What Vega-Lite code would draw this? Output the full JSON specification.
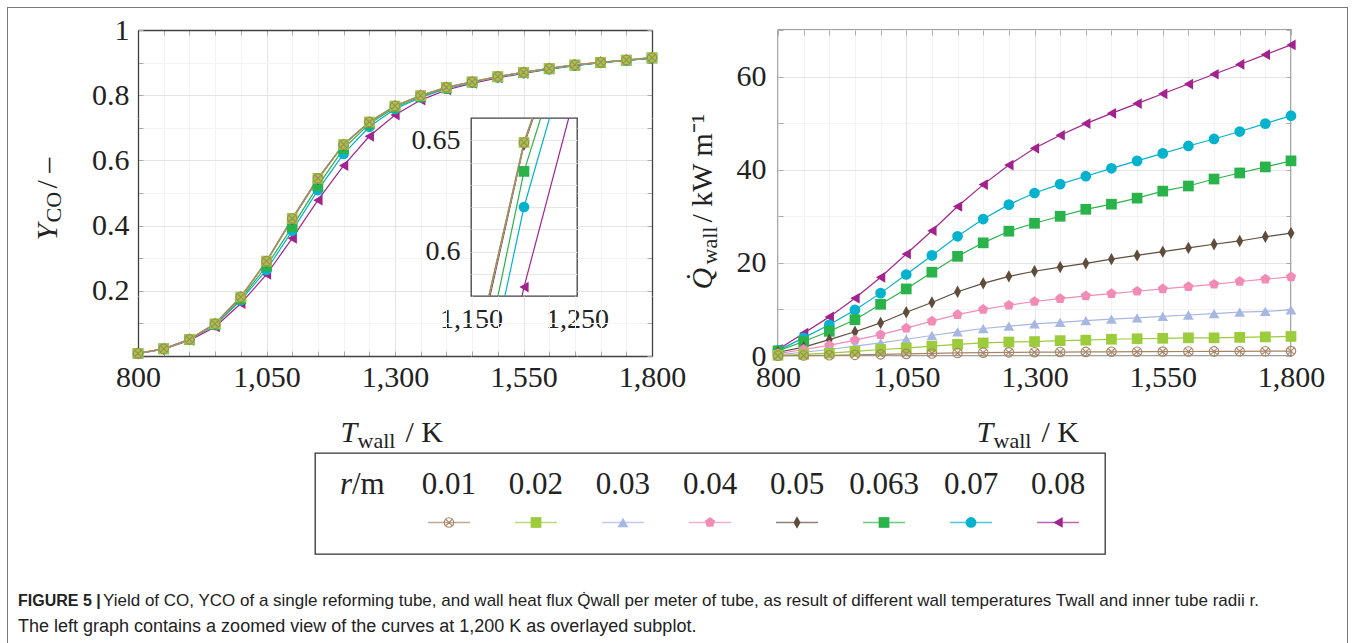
{
  "$schema": "https://vega.github.io/schema/vega-lite/v6.json",
  "background": "white",
  "autosize": {"type": "pad"},
  "padding": {"left": 7, "top": 7, "right": 0, "bottom": 0},
  "config": {
    "font": "Liberation Serif",
    "view": {"stroke": "#404040", "strokeWidth": 1.3},
    "range": {
      "category": ["#a88464","#9ccb3c","#a7b7e2","#f28cb6","#5f4c3b","#2ab34a","#03b2cd","#a3238e"],
      "symbol": ["M-1,0A1,1,0,1,0,1,0A1,1,0,1,0,-1,0ZM-0.7,-0.7L0.7,0.7M-0.7,0.7L0.7,-0.7", "square", "triangle-up", "M0,-1L0.951,-0.309L0.588,0.809L-0.588,0.809L-0.951,-0.309Z", "M0,-1.15L0.65,0L0,1.15L-0.65,0Z", "square", "circle", "triangle-left"]
    },
    "axis": {"labelFont": "Liberation Serif", "labelFontSize": 30, "labelColor": "#222", "titleFont": "Liberation Serif", "titleFontSize": 30, "titleFontWeight": "normal", "titleColor": "#222", "domain": false, "domainColor": "#404040", "domainWidth": 1.3, "tickColor": "#aaa", "tickSize": -5, "gridColor": "#f0f0f0", "labelOverlap": false, "labelFlush": false}
  },
  "datasets": {
    "main": [
      {"r":"0.08","T":800,"Y":0.007,"Q":1.4},{"r":"0.08","T":850,"Y":0.021,"Q":4.9},{"r":"0.08","T":900,"Y":0.048,"Q":8.4},{"r":"0.08","T":950,"Y":0.089,"Q":12.4},{"r":"0.08","T":1000,"Y":0.161,"Q":16.9},{"r":"0.08","T":1050,"Y":0.250,"Q":21.9},{"r":"0.08","T":1100,"Y":0.361,"Q":26.9},{"r":"0.08","T":1150,"Y":0.478,"Q":32.1},{"r":"0.08","T":1200,"Y":0.584,"Q":36.8},{"r":"0.08","T":1250,"Y":0.674,"Q":41.0},{"r":"0.08","T":1300,"Y":0.739,"Q":44.6},{"r":"0.08","T":1350,"Y":0.785,"Q":47.4},{"r":"0.08","T":1400,"Y":0.816,"Q":49.9},{"r":"0.08","T":1450,"Y":0.836,"Q":52.1},{"r":"0.08","T":1500,"Y":0.853,"Q":54.2},{"r":"0.08","T":1550,"Y":0.867,"Q":56.3},{"r":"0.08","T":1600,"Y":0.880,"Q":58.4},{"r":"0.08","T":1650,"Y":0.891,"Q":60.5},{"r":"0.08","T":1700,"Y":0.900,"Q":62.6},{"r":"0.08","T":1750,"Y":0.907,"Q":64.7},{"r":"0.08","T":1800,"Y":0.914,"Q":66.8},
      {"r":"0.07","T":800,"Y":0.008,"Q":1.2},{"r":"0.07","T":850,"Y":0.022,"Q":3.9},{"r":"0.07","T":900,"Y":0.050,"Q":6.7},{"r":"0.07","T":950,"Y":0.095,"Q":9.9},{"r":"0.07","T":1000,"Y":0.171,"Q":13.5},{"r":"0.07","T":1050,"Y":0.264,"Q":17.5},{"r":"0.07","T":1100,"Y":0.384,"Q":21.6},{"r":"0.07","T":1150,"Y":0.509,"Q":25.7},{"r":"0.07","T":1200,"Y":0.620,"Q":29.4},{"r":"0.07","T":1250,"Y":0.703,"Q":32.5},{"r":"0.07","T":1300,"Y":0.758,"Q":35.0},{"r":"0.07","T":1350,"Y":0.793,"Q":36.9},{"r":"0.07","T":1400,"Y":0.820,"Q":38.6},{"r":"0.07","T":1450,"Y":0.839,"Q":40.3},{"r":"0.07","T":1500,"Y":0.855,"Q":41.9},{"r":"0.07","T":1550,"Y":0.868,"Q":43.5},{"r":"0.07","T":1600,"Y":0.880,"Q":45.1},{"r":"0.07","T":1650,"Y":0.891,"Q":46.6},{"r":"0.07","T":1700,"Y":0.900,"Q":48.2},{"r":"0.07","T":1750,"Y":0.907,"Q":49.9},{"r":"0.07","T":1800,"Y":0.914,"Q":51.6},
      {"r":"0.063","T":800,"Y":0.008,"Q":1.1},{"r":"0.063","T":850,"Y":0.022,"Q":3.1},{"r":"0.063","T":900,"Y":0.050,"Q":5.3},{"r":"0.063","T":950,"Y":0.097,"Q":7.8},{"r":"0.063","T":1000,"Y":0.175,"Q":11.1},{"r":"0.063","T":1050,"Y":0.276,"Q":14.4},{"r":"0.063","T":1100,"Y":0.396,"Q":18.0},{"r":"0.063","T":1150,"Y":0.522,"Q":21.4},{"r":"0.063","T":1200,"Y":0.636,"Q":24.3},{"r":"0.063","T":1250,"Y":0.712,"Q":26.8},{"r":"0.063","T":1300,"Y":0.763,"Q":28.5},{"r":"0.063","T":1350,"Y":0.796,"Q":30.0},{"r":"0.063","T":1400,"Y":0.822,"Q":31.5},{"r":"0.063","T":1450,"Y":0.840,"Q":32.6},{"r":"0.063","T":1500,"Y":0.856,"Q":33.9},{"r":"0.063","T":1550,"Y":0.869,"Q":35.4},{"r":"0.063","T":1600,"Y":0.881,"Q":36.5},{"r":"0.063","T":1650,"Y":0.892,"Q":38.0},{"r":"0.063","T":1700,"Y":0.900,"Q":39.3},{"r":"0.063","T":1750,"Y":0.907,"Q":40.6},{"r":"0.063","T":1800,"Y":0.914,"Q":41.9},
      {"r":"0.05","T":800,"Y":0.008,"Q":0.8},{"r":"0.05","T":850,"Y":0.022,"Q":1.9},{"r":"0.05","T":900,"Y":0.051,"Q":3.5},{"r":"0.05","T":950,"Y":0.099,"Q":5.2},{"r":"0.05","T":1000,"Y":0.181,"Q":7.1},{"r":"0.05","T":1050,"Y":0.289,"Q":9.4},{"r":"0.05","T":1100,"Y":0.419,"Q":11.5},{"r":"0.05","T":1150,"Y":0.542,"Q":13.8},{"r":"0.05","T":1200,"Y":0.648,"Q":15.6},{"r":"0.05","T":1250,"Y":0.717,"Q":17.1},{"r":"0.05","T":1300,"Y":0.767,"Q":18.2},{"r":"0.05","T":1350,"Y":0.799,"Q":19.1},{"r":"0.05","T":1400,"Y":0.824,"Q":19.9},{"r":"0.05","T":1450,"Y":0.841,"Q":20.8},{"r":"0.05","T":1500,"Y":0.857,"Q":21.6},{"r":"0.05","T":1550,"Y":0.870,"Q":22.4},{"r":"0.05","T":1600,"Y":0.882,"Q":23.2},{"r":"0.05","T":1650,"Y":0.893,"Q":24.0},{"r":"0.05","T":1700,"Y":0.901,"Q":24.7},{"r":"0.05","T":1750,"Y":0.908,"Q":25.6},{"r":"0.05","T":1800,"Y":0.915,"Q":26.4},
      {"r":"0.04","T":800,"Y":0.008,"Q":0.5},{"r":"0.04","T":850,"Y":0.022,"Q":1.4},{"r":"0.04","T":900,"Y":0.051,"Q":2.3},{"r":"0.04","T":950,"Y":0.099,"Q":3.4},{"r":"0.04","T":1000,"Y":0.181,"Q":4.6},{"r":"0.04","T":1050,"Y":0.290,"Q":6.0},{"r":"0.04","T":1100,"Y":0.421,"Q":7.5},{"r":"0.04","T":1150,"Y":0.544,"Q":8.9},{"r":"0.04","T":1200,"Y":0.649,"Q":10.0},{"r":"0.04","T":1250,"Y":0.718,"Q":10.9},{"r":"0.04","T":1300,"Y":0.767,"Q":11.7},{"r":"0.04","T":1350,"Y":0.799,"Q":12.3},{"r":"0.04","T":1400,"Y":0.824,"Q":12.9},{"r":"0.04","T":1450,"Y":0.841,"Q":13.4},{"r":"0.04","T":1500,"Y":0.857,"Q":13.9},{"r":"0.04","T":1550,"Y":0.870,"Q":14.4},{"r":"0.04","T":1600,"Y":0.882,"Q":14.9},{"r":"0.04","T":1650,"Y":0.893,"Q":15.4},{"r":"0.04","T":1700,"Y":0.901,"Q":16.0},{"r":"0.04","T":1750,"Y":0.908,"Q":16.5},{"r":"0.04","T":1800,"Y":0.915,"Q":17.0},
      {"r":"0.03","T":800,"Y":0.008,"Q":0.3},{"r":"0.03","T":850,"Y":0.022,"Q":0.8},{"r":"0.03","T":900,"Y":0.051,"Q":1.4},{"r":"0.03","T":950,"Y":0.099,"Q":2.1},{"r":"0.03","T":1000,"Y":0.181,"Q":2.8},{"r":"0.03","T":1050,"Y":0.291,"Q":3.6},{"r":"0.03","T":1100,"Y":0.422,"Q":4.4},{"r":"0.03","T":1150,"Y":0.545,"Q":5.2},{"r":"0.03","T":1200,"Y":0.649,"Q":5.9},{"r":"0.03","T":1250,"Y":0.718,"Q":6.4},{"r":"0.03","T":1300,"Y":0.767,"Q":6.9},{"r":"0.03","T":1350,"Y":0.799,"Q":7.2},{"r":"0.03","T":1400,"Y":0.824,"Q":7.6},{"r":"0.03","T":1450,"Y":0.841,"Q":7.9},{"r":"0.03","T":1500,"Y":0.857,"Q":8.2},{"r":"0.03","T":1550,"Y":0.870,"Q":8.5},{"r":"0.03","T":1600,"Y":0.882,"Q":8.8},{"r":"0.03","T":1650,"Y":0.893,"Q":9.1},{"r":"0.03","T":1700,"Y":0.901,"Q":9.4},{"r":"0.03","T":1750,"Y":0.908,"Q":9.6},{"r":"0.03","T":1800,"Y":0.915,"Q":9.9},
      {"r":"0.02","T":800,"Y":0.008,"Q":0.15},{"r":"0.02","T":850,"Y":0.022,"Q":0.35},{"r":"0.02","T":900,"Y":0.051,"Q":0.6},{"r":"0.02","T":950,"Y":0.099,"Q":1.0},{"r":"0.02","T":1000,"Y":0.181,"Q":1.4},{"r":"0.02","T":1050,"Y":0.291,"Q":1.7},{"r":"0.02","T":1100,"Y":0.422,"Q":2.1},{"r":"0.02","T":1150,"Y":0.545,"Q":2.5},{"r":"0.02","T":1200,"Y":0.649,"Q":2.8},{"r":"0.02","T":1250,"Y":0.718,"Q":3.0},{"r":"0.02","T":1300,"Y":0.767,"Q":3.1},{"r":"0.02","T":1350,"Y":0.799,"Q":3.3},{"r":"0.02","T":1400,"Y":0.824,"Q":3.4},{"r":"0.02","T":1450,"Y":0.841,"Q":3.6},{"r":"0.02","T":1500,"Y":0.857,"Q":3.7},{"r":"0.02","T":1550,"Y":0.870,"Q":3.8},{"r":"0.02","T":1600,"Y":0.882,"Q":3.9},{"r":"0.02","T":1650,"Y":0.893,"Q":3.9},{"r":"0.02","T":1700,"Y":0.901,"Q":4.0},{"r":"0.02","T":1750,"Y":0.908,"Q":4.1},{"r":"0.02","T":1800,"Y":0.915,"Q":4.2},
      {"r":"0.01","T":800,"Y":0.008,"Q":0.05},{"r":"0.01","T":850,"Y":0.022,"Q":0.1},{"r":"0.01","T":900,"Y":0.051,"Q":0.15},{"r":"0.01","T":950,"Y":0.099,"Q":0.25},{"r":"0.01","T":1000,"Y":0.181,"Q":0.35},{"r":"0.01","T":1050,"Y":0.291,"Q":0.45},{"r":"0.01","T":1100,"Y":0.422,"Q":0.55},{"r":"0.01","T":1150,"Y":0.545,"Q":0.65},{"r":"0.01","T":1200,"Y":0.649,"Q":0.72},{"r":"0.01","T":1250,"Y":0.718,"Q":0.78},{"r":"0.01","T":1300,"Y":0.767,"Q":0.82},{"r":"0.01","T":1350,"Y":0.799,"Q":0.85},{"r":"0.01","T":1400,"Y":0.824,"Q":0.88},{"r":"0.01","T":1450,"Y":0.841,"Q":0.9},{"r":"0.01","T":1500,"Y":0.857,"Q":0.93},{"r":"0.01","T":1550,"Y":0.870,"Q":0.95},{"r":"0.01","T":1600,"Y":0.882,"Q":0.97},{"r":"0.01","T":1650,"Y":0.893,"Q":0.99},{"r":"0.01","T":1700,"Y":0.901,"Q":1.01},{"r":"0.01","T":1750,"Y":0.908,"Q":1.03},{"r":"0.01","T":1800,"Y":0.915,"Q":1.05}
    ],
    "legsym": [{"r":"0.01"},{"r":"0.02"},{"r":"0.03"},{"r":"0.04"},{"r":"0.05"},{"r":"0.063"},{"r":"0.07"},{"r":"0.08"}],
    "caption1": [{"line": 1, "text": "Yield of CO, YCO of a single reforming tube, and wall heat flux Q̇wall per meter of tube, as result of different wall temperatures Twall and inner tube radii r."}],
    "caption2": [{"line": 2, "text": "The left graph contains a zoomed view of the curves at 1,200 K as overlayed subplot."}],
    "capbold": [{"line": 1, "text": "FIGURE 5 |"}]
  },
  "spacing": 0,
  "hconcat": [
    {"width": 1, "height": 700, "data": {"values": []}, "mark": "point", "view": {"stroke": null, "fill": "#7a7a7a"}},
    {
      "spacing": 6,
      "vconcat": [
        {"width": 1339, "height": 1, "data": {"values": []}, "mark": "point", "view": {"stroke": null, "fill": "#7a7a7a"}},
        {
          "spacing": 33,
          "vconcat": [
            {
              "spacing": 0,
              "vconcat": [
                {
                  "spacing": 0,
                  "hconcat": [
                    {"width": 23, "height": 1, "data": {"values": []}, "mark": "point", "view": {"stroke": null, "fill": "transparent"}},
                    {
                      "data": {"name": "main"},
                      "columns": 3, "spacing": 0, "bounds": "flush", "align": "each",
                      "concat": [
                        {
                          "width": 333, "height": 88, "view": {"stroke": null},
                          "encoding": {
                            "x": {"field": "T", "type": "quantitative", "scale": {"domain": [800, 1447.8599], "nice": false, "zero": false},
                              "axis": {"orient": "top", "values": [800,850,900,950,1000,1050,1100,1150,1200,1250,1300,1350,1400], "labels": false, "domain": true, "grid": true, "gridColor": {"condition": {"test": "datum.value % 250 == 50", "value": "#e4e4e4"}, "value": "#f3f3f3"}, "title": null}},
                            "y": {"field": "Y", "type": "quantitative", "scale": {"domain": [0.7300613, 1], "nice": false, "zero": false},
                              "axis": {"orient": "left", "values": [0.8, 0.9, 1], "labelExpr": "round(datum.value * 10) % 2 == 0 ? format(datum.value, '~g') : ''", "labelPadding": 14, "domain": true, "grid": true, "gridColor": {"condition": {"test": "round(datum.value * 10) % 2 == 0", "value": "#e4e4e4"}, "value": "#f3f3f3"}, "title": "CO", "titleFontSize": 22, "titleX": -78, "titleY": 192, "titleAngle": 270, "titleAlign": "left", "titleBaseline": "alphabetic"}},
                            "color": {"field": "r", "type": "nominal", "legend": null, "scale": {"domain": ["0.01","0.02","0.03","0.04","0.05","0.063","0.07","0.08"]}}
                          },
                          "layer": [
                            {"mark": {"type": "line", "strokeWidth": 1.2, "clip": true}},
                            {"transform": [{"filter": "datum.r != '0.01' && datum.T < 1447.86 && datum.Y >= 0.7300613"}], "mark": {"type": "point", "filled": true, "opacity": 1, "size": 115}, "encoding": {"shape": {"field": "r", "type": "nominal", "legend": null, "scale": {"domain": ["0.01","0.02","0.03","0.04","0.05","0.063","0.07","0.08"]}}}},
                            {"transform": [{"filter": "datum.r == '0.01' && datum.T < 1447.86 && datum.Y >= 0.7300613"}], "mark": {"type": "point", "filled": false, "opacity": 1, "size": 90, "strokeWidth": 1.1}, "encoding": {"shape": {"field": "r", "type": "nominal", "legend": null, "scale": {"domain": ["0.01","0.02","0.03","0.04","0.05","0.063","0.07","0.08"]}}}}
                          ]
                        },
                        {
                          "width": 106, "height": 88, "view": {"stroke": null},
                          "encoding": {
                            "x": {"field": "T", "type": "quantitative", "scale": {"domain": [1447.8599, 1654.0856], "nice": false, "zero": false},
                              "axis": {"orient": "top", "values": [1450,1500,1550,1600,1650], "labels": false, "domain": true, "grid": true, "gridColor": {"condition": {"test": "datum.value % 250 == 50", "value": "#e4e4e4"}, "value": "#f3f3f3"}, "title": null}},
                            "y": {"field": "Y", "type": "quantitative", "scale": {"domain": [0.7300613, 1], "nice": false, "zero": false},
                              "axis": {"values": [0.8, 0.9, 1], "labels": false, "ticks": false, "domain": false, "grid": true, "gridColor": {"condition": {"test": "round(datum.value * 10) % 2 == 0", "value": "#e4e4e4"}, "value": "#f3f3f3"}, "title": null}},
                            "color": {"field": "r", "type": "nominal", "legend": null, "scale": {"domain": ["0.01","0.02","0.03","0.04","0.05","0.063","0.07","0.08"]}}
                          },
                          "layer": [
                            {"mark": {"type": "line", "strokeWidth": 1.2, "clip": true}},
                            {"transform": [{"filter": "datum.r != '0.01' && datum.T >= 1447.86 && datum.T < 1654.09 && datum.Y >= 0.7300613"}], "mark": {"type": "point", "filled": true, "opacity": 1, "size": 115}, "encoding": {"shape": {"field": "r", "type": "nominal", "legend": null, "scale": {"domain": ["0.01","0.02","0.03","0.04","0.05","0.063","0.07","0.08"]}}}},
                            {"transform": [{"filter": "datum.r == '0.01' && datum.T >= 1447.86 && datum.T < 1654.09 && datum.Y >= 0.7300613"}], "mark": {"type": "point", "filled": false, "opacity": 1, "size": 90, "strokeWidth": 1.1}, "encoding": {"shape": {"field": "r", "type": "nominal", "legend": null, "scale": {"domain": ["0.01","0.02","0.03","0.04","0.05","0.063","0.07","0.08"]}}}}
                          ]
                        },
                        {
                          "width": 75, "height": 88, "view": {"stroke": null},
                          "encoding": {
                            "x": {"field": "T", "type": "quantitative", "scale": {"domain": [1654.0856, 1800], "nice": false, "zero": false},
                              "axis": {"orient": "top", "values": [1700,1750,1800], "labels": false, "domain": true, "grid": true, "gridColor": {"condition": {"test": "datum.value % 250 == 50", "value": "#e4e4e4"}, "value": "#f3f3f3"}, "title": null}},
                            "y": {"field": "Y", "type": "quantitative", "scale": {"domain": [0.7300613, 1], "nice": false, "zero": false},
                              "axis": {"orient": "right", "values": [0.8, 0.9, 1], "labels": false, "domain": true, "grid": true, "gridColor": {"condition": {"test": "round(datum.value * 10) % 2 == 0", "value": "#e4e4e4"}, "value": "#f3f3f3"}, "title": null}},
                            "color": {"field": "r", "type": "nominal", "legend": null, "scale": {"domain": ["0.01","0.02","0.03","0.04","0.05","0.063","0.07","0.08"]}}
                          },
                          "layer": [
                            {"mark": {"type": "line", "strokeWidth": 1.2, "clip": true}},
                            {"transform": [{"filter": "datum.r != '0.01' && datum.T >= 1654.09 && datum.Y >= 0.7300613"}], "mark": {"type": "point", "filled": true, "opacity": 1, "size": 115}, "encoding": {"shape": {"field": "r", "type": "nominal", "legend": null, "scale": {"domain": ["0.01","0.02","0.03","0.04","0.05","0.063","0.07","0.08"]}}}},
                            {"transform": [{"filter": "datum.r == '0.01' && datum.T >= 1654.09 && datum.Y >= 0.7300613"}], "mark": {"type": "point", "filled": false, "opacity": 1, "size": 90, "strokeWidth": 1.1}, "encoding": {"shape": {"field": "r", "type": "nominal", "legend": null, "scale": {"domain": ["0.01","0.02","0.03","0.04","0.05","0.063","0.07","0.08"]}}}}
                          ]
                        },
                        {
                          "width": 333, "height": 178, "view": {"stroke": null},
                          "encoding": {
                            "x": {"field": "T", "type": "quantitative", "scale": {"domain": [800, 1447.8599], "nice": false, "zero": false},
                              "axis": {"values": [800,850,900,950,1000,1050,1100,1150,1200,1250,1300,1350,1400], "labels": false, "ticks": false, "domain": false, "grid": true, "gridColor": {"condition": {"test": "datum.value % 250 == 50", "value": "#e4e4e4"}, "value": "#f3f3f3"}, "title": null}},
                            "y": {"field": "Y", "type": "quantitative", "scale": {"domain": [0.1840491, 0.7300613], "nice": false, "zero": false},
                              "axis": {"orient": "left", "values": [0.2, 0.3, 0.4, 0.5, 0.6, 0.7], "labelExpr": "round(datum.value * 10) % 2 == 0 ? format(datum.value, '~g') : ''", "labelPadding": 14, "domain": true, "grid": true, "gridColor": {"condition": {"test": "round(datum.value * 10) % 2 == 0", "value": "#e4e4e4"}, "value": "#f3f3f3"}, "title": "Y", "titleFontStyle": "italic", "titleX": -82, "titleY": 122, "titleAngle": 270, "titleAlign": "left", "titleBaseline": "alphabetic"}},
                            "color": {"field": "r", "type": "nominal", "legend": null, "scale": {"domain": ["0.01","0.02","0.03","0.04","0.05","0.063","0.07","0.08"]}}
                          },
                          "layer": [
                            {"mark": {"type": "line", "strokeWidth": 1.2, "clip": true}},
                            {"transform": [{"filter": "datum.r != '0.01' && datum.T < 1447.86 && datum.Y >= 0.1840491 && datum.Y < 0.7300613"}], "mark": {"type": "point", "filled": true, "opacity": 1, "size": 115}, "encoding": {"shape": {"field": "r", "type": "nominal", "legend": null, "scale": {"domain": ["0.01","0.02","0.03","0.04","0.05","0.063","0.07","0.08"]}}}},
                            {"transform": [{"filter": "datum.r == '0.01' && datum.T < 1447.86 && datum.Y >= 0.1840491 && datum.Y < 0.7300613"}], "mark": {"type": "point", "filled": false, "opacity": 1, "size": 90, "strokeWidth": 1.1}, "encoding": {"shape": {"field": "r", "type": "nominal", "legend": null, "scale": {"domain": ["0.01","0.02","0.03","0.04","0.05","0.063","0.07","0.08"]}}}}
                          ]
                        },
                        {
                          "width": 106, "height": 178,
                          "view": {"fill": "white", "stroke": "#404040", "strokeWidth": 1.3},
                          "transform": [{"filter": "datum.T >= 1150 && datum.T <= 1250"}],
                          "encoding": {
                            "x": {"field": "T", "type": "quantitative", "scale": {"domain": [1150, 1250], "nice": false, "zero": false},
                              "axis": {"values": [1150, 1250], "labelExpr": "format(datum.value, ',')", "labelPadding": 9, "labelFontSize": 28, "grid": false, "ticks": false, "title": null}},
                            "y": {"field": "Y", "type": "quantitative", "scale": {"domain": [0.58, 0.66], "nice": false, "zero": false},
                              "axis": {"values": [0.59,0.6,0.61,0.62,0.63,0.64,0.65], "labelExpr": "abs(datum.value - 0.6) < 0.001 || abs(datum.value - 0.65) < 0.001 ? format(datum.value, '~g') : ''", "labelPadding": 11, "labelFontSize": 28, "ticks": false, "grid": true, "gridColor": "#e6e6e6", "title": null}},
                            "color": {"field": "r", "type": "nominal", "legend": null, "scale": {"domain": ["0.01","0.02","0.03","0.04","0.05","0.063","0.07","0.08"]}}
                          },
                          "layer": [
                            {"mark": {"type": "line", "strokeWidth": 1.2, "clip": true}},
                            {"transform": [{"filter": "datum.r != '0.01' && datum.T == 1200"}], "mark": {"type": "point", "filled": true, "opacity": 1, "size": 115, "clip": true}, "encoding": {"shape": {"field": "r", "type": "nominal", "legend": null, "scale": {"domain": ["0.01","0.02","0.03","0.04","0.05","0.063","0.07","0.08"]}}}},
                            {"transform": [{"filter": "datum.r == '0.01' && datum.T == 1200"}], "mark": {"type": "point", "filled": false, "opacity": 1, "size": 90, "strokeWidth": 1.1, "clip": true}, "encoding": {"shape": {"field": "r", "type": "nominal", "legend": null, "scale": {"domain": ["0.01","0.02","0.03","0.04","0.05","0.063","0.07","0.08"]}}}}
                          ]
                        },
                        {
                          "width": 75, "height": 178, "view": {"stroke": null},
                          "encoding": {
                            "x": {"field": "T", "type": "quantitative", "scale": {"domain": [1654.0856, 1800], "nice": false, "zero": false},
                              "axis": {"values": [1700,1750,1800], "labels": false, "ticks": false, "domain": false, "grid": true, "gridColor": {"condition": {"test": "datum.value % 250 == 50", "value": "#e4e4e4"}, "value": "#f3f3f3"}, "title": null}},
                            "y": {"field": "Y", "type": "quantitative", "scale": {"domain": [0.1840491, 0.7300613], "nice": false, "zero": false},
                              "axis": {"orient": "right", "values": [0.2, 0.3, 0.4, 0.5, 0.6, 0.7], "labels": false, "domain": true, "grid": true, "gridColor": {"condition": {"test": "round(datum.value * 10) % 2 == 0", "value": "#e4e4e4"}, "value": "#f3f3f3"}, "title": null}},
                            "color": {"field": "r", "type": "nominal", "legend": null, "scale": {"domain": ["0.01","0.02","0.03","0.04","0.05","0.063","0.07","0.08"]}}
                          },
                          "layer": [
                            {"mark": {"type": "line", "strokeWidth": 1.2, "clip": true}}
                          ]
                        },
                        {
                          "width": 333, "height": 60, "view": {"stroke": null},
                          "encoding": {
                            "x": {"field": "T", "type": "quantitative", "scale": {"domain": [800, 1447.8599], "nice": false, "zero": false},
                              "axis": {"orient": "bottom", "values": [800,850,900,950,1000,1050,1100,1150,1200,1250,1300,1350,1400], "labelExpr": "datum.value % 250 == 50 ? format(datum.value, ',') : ''", "labelPadding": 11, "domain": true, "grid": true, "gridColor": {"condition": {"test": "datum.value % 250 == 50", "value": "#e4e4e4"}, "value": "#f3f3f3"}, "title": "T", "titleFontStyle": "italic", "titleX": 202, "titleY": 85, "titleAlign": "left", "titleBaseline": "alphabetic"}},
                            "y": {"field": "Y", "type": "quantitative", "scale": {"domain": [0, 0.1840491], "nice": false, "zero": false},
                              "axis": {"orient": "left", "values": [0, 0.1], "labels": false, "domain": true, "grid": true, "gridColor": {"condition": {"test": "round(datum.value * 10) % 2 == 0", "value": "#e4e4e4"}, "value": "#f3f3f3"}, "title": "/ –", "titleX": -82, "titleY": -108, "titleAngle": 270, "titleAlign": "left", "titleBaseline": "alphabetic"}},
                            "color": {"field": "r", "type": "nominal", "legend": null, "scale": {"domain": ["0.01","0.02","0.03","0.04","0.05","0.063","0.07","0.08"]}}
                          },
                          "layer": [
                            {"mark": {"type": "line", "strokeWidth": 1.2, "clip": true}},
                            {"transform": [{"filter": "datum.r != '0.01' && datum.T < 1447.86 && datum.Y < 0.1840491"}], "mark": {"type": "point", "filled": true, "opacity": 1, "size": 115}, "encoding": {"shape": {"field": "r", "type": "nominal", "legend": null, "scale": {"domain": ["0.01","0.02","0.03","0.04","0.05","0.063","0.07","0.08"]}}}},
                            {"transform": [{"filter": "datum.r == '0.01' && datum.T < 1447.86 && datum.Y < 0.1840491"}], "mark": {"type": "point", "filled": false, "opacity": 1, "size": 90, "strokeWidth": 1.1}, "encoding": {"shape": {"field": "r", "type": "nominal", "legend": null, "scale": {"domain": ["0.01","0.02","0.03","0.04","0.05","0.063","0.07","0.08"]}}}}
                          ]
                        },
                        {
                          "width": 106, "height": 60, "view": {"stroke": null},
                          "encoding": {
                            "x": {"field": "T", "type": "quantitative", "scale": {"domain": [1447.8599, 1654.0856], "nice": false, "zero": false},
                              "axis": {"orient": "bottom", "values": [1450,1500,1550,1600,1650], "labelExpr": "datum.value % 250 == 50 ? format(datum.value, ',') : ''", "labelPadding": 11, "domain": true, "grid": true, "gridColor": {"condition": {"test": "datum.value % 250 == 50", "value": "#e4e4e4"}, "value": "#f3f3f3"}, "title": "wall", "titleFontSize": 22, "titleX": -114, "titleY": 91, "titleAlign": "left", "titleBaseline": "alphabetic"}},
                            "y": {"field": "Y", "type": "quantitative", "scale": {"domain": [0, 0.1840491], "nice": false, "zero": false},
                              "axis": {"values": [0, 0.1], "labels": false, "ticks": false, "domain": false, "grid": true, "gridColor": {"condition": {"test": "round(datum.value * 10) % 2 == 0", "value": "#e4e4e4"}, "value": "#f3f3f3"}, "title": null}},
                            "color": {"field": "r", "type": "nominal", "legend": null, "scale": {"domain": ["0.01","0.02","0.03","0.04","0.05","0.063","0.07","0.08"]}}
                          },
                          "layer": [
                            {"mark": {"type": "line", "strokeWidth": 1.2, "clip": true}}
                          ]
                        },
                        {
                          "width": 75, "height": 60, "view": {"stroke": null},
                          "encoding": {
                            "x": {"field": "T", "type": "quantitative", "scale": {"domain": [1654.0856, 1800], "nice": false, "zero": false},
                              "axis": {"orient": "bottom", "values": [1700,1750,1800], "labelExpr": "datum.value % 250 == 50 ? format(datum.value, ',') : ''", "labelPadding": 11, "domain": true, "grid": true, "gridColor": {"condition": {"test": "datum.value % 250 == 50", "value": "#e4e4e4"}, "value": "#f3f3f3"}, "title": "/ K", "titleX": -172, "titleY": 85, "titleAlign": "left", "titleBaseline": "alphabetic"}},
                            "y": {"field": "Y", "type": "quantitative", "scale": {"domain": [0, 0.1840491], "nice": false, "zero": false},
                              "axis": {"orient": "right", "values": [0, 0.1], "labels": false, "domain": true, "grid": true, "gridColor": {"condition": {"test": "round(datum.value * 10) % 2 == 0", "value": "#e4e4e4"}, "value": "#f3f3f3"}, "title": null}},
                            "color": {"field": "r", "type": "nominal", "legend": null, "scale": {"domain": ["0.01","0.02","0.03","0.04","0.05","0.063","0.07","0.08"]}}
                          },
                          "layer": [
                            {"mark": {"type": "line", "strokeWidth": 1.2, "clip": true}}
                          ]
                        }
                      ]
                    },
                    {
                      "width": 513, "height": 326,
                      "data": {"name": "main"},
                      "resolve": {"axis": {"x": "independent", "y": "independent"}},
                      "layer": [
                        {"mark": {"type": "line", "strokeWidth": 1.2, "clip": false},
                          "encoding": {
                            "x": {"field": "T", "type": "quantitative", "scale": {"domain": [800, 1800], "nice": false, "zero": false},
                              "axis": {"orient": "bottom", "values": [800,850,900,950,1000,1050,1100,1150,1200,1250,1300,1350,1400,1450,1500,1550,1600,1650,1700,1750,1800], "labelExpr": "datum.value % 250 == 50 ? format(datum.value, ',') : ''", "labelPadding": 11, "grid": true, "gridColor": {"condition": {"test": "datum.value % 250 == 50", "value": "#e4e4e4"}, "value": "#f3f3f3"}, "title": "T", "titleFontStyle": "italic", "titleX": 198, "titleY": 85, "titleAlign": "left", "titleBaseline": "alphabetic"}},
                            "y": {"field": "Q", "type": "quantitative", "scale": {"domain": [0, 70], "nice": false, "zero": false},
                              "axis": {"orient": "left", "values": [0,10,20,30,40,50,60,70], "labelExpr": "datum.value % 20 == 0 ? datum.label : ''", "labelPadding": 17, "grid": true, "gridColor": {"condition": {"test": "datum.value % 20 == 0", "value": "#e4e4e4"}, "value": "#f3f3f3"}, "title": "Q̇", "titleFontStyle": "italic", "titleX": -67, "titleY": 259, "titleAngle": 270, "titleAlign": "left", "titleBaseline": "alphabetic"}},
                            "color": {"field": "r", "type": "nominal", "legend": null, "scale": {"domain": ["0.01","0.02","0.03","0.04","0.05","0.063","0.07","0.08"]}}
                          }},
                        {"transform": [{"filter": "datum.r != '0.01'"}], "mark": {"type": "point", "filled": true, "opacity": 1, "size": 115},
                          "encoding": {
                            "x": {"field": "T", "type": "quantitative", "scale": {"domain": [800, 1800], "nice": false, "zero": false}, "axis": null},
                            "y": {"field": "Q", "type": "quantitative", "scale": {"domain": [0, 70], "nice": false, "zero": false}, "axis": null},
                            "color": {"field": "r", "type": "nominal", "legend": null, "scale": {"domain": ["0.01","0.02","0.03","0.04","0.05","0.063","0.07","0.08"]}},
                            "shape": {"field": "r", "type": "nominal", "legend": null, "scale": {"domain": ["0.01","0.02","0.03","0.04","0.05","0.063","0.07","0.08"]}}
                          }},
                        {"transform": [{"filter": "datum.r == '0.01'"}], "mark": {"type": "point", "filled": false, "opacity": 1, "size": 90, "strokeWidth": 1.1},
                          "encoding": {
                            "x": {"field": "T", "type": "quantitative", "scale": {"domain": [800, 1800], "nice": false, "zero": false}, "axis": null},
                            "y": {"field": "Q", "type": "quantitative", "scale": {"domain": [0, 70], "nice": false, "zero": false}, "axis": null},
                            "color": {"field": "r", "type": "nominal", "legend": null, "scale": {"domain": ["0.01","0.02","0.03","0.04","0.05","0.063","0.07","0.08"]}},
                            "shape": {"field": "r", "type": "nominal", "legend": null, "scale": {"domain": ["0.01","0.02","0.03","0.04","0.05","0.063","0.07","0.08"]}}
                          }},
                        {"mark": {"type": "point", "opacity": 0},
                          "encoding": {
                            "x": {"field": "T", "type": "quantitative", "scale": {"domain": [800, 1800], "nice": false, "zero": false},
                              "axis": {"orient": "bottom", "labels": false, "ticks": false, "domain": false, "grid": false, "title": "wall", "titleFontSize": 22, "titleX": 215, "titleY": 91, "titleAlign": "left", "titleBaseline": "alphabetic"}},
                            "y": {"field": "Q", "type": "quantitative", "scale": {"domain": [0, 70], "nice": false, "zero": false},
                              "axis": {"orient": "left", "labels": false, "ticks": false, "domain": false, "grid": false, "title": "wall", "titleFontSize": 22, "titleX": -62, "titleY": 234, "titleAngle": 270, "titleAlign": "left", "titleBaseline": "alphabetic"}}
                          }},
                        {"mark": {"type": "point", "opacity": 0},
                          "encoding": {
                            "x": {"field": "T", "type": "quantitative", "scale": {"domain": [800, 1800], "nice": false, "zero": false},
                              "axis": {"orient": "bottom", "labels": false, "ticks": false, "domain": false, "grid": false, "title": "/ K", "titleX": 263, "titleY": 85, "titleAlign": "left", "titleBaseline": "alphabetic"}},
                            "y": {"field": "Q", "type": "quantitative", "scale": {"domain": [0, 70], "nice": false, "zero": false},
                              "axis": {"orient": "left", "labels": false, "ticks": false, "domain": false, "grid": false, "title": "/ kW m⁻¹", "titleX": -67, "titleY": 192, "titleAngle": 270, "titleAlign": "left", "titleBaseline": "alphabetic"}}
                          }},
                        {"mark": {"type": "point", "opacity": 0},
                          "encoding": {
                            "x": {"field": "T", "type": "quantitative", "scale": {"domain": [800, 1800], "nice": false, "zero": false},
                              "axis": {"orient": "top", "values": [800,850,900,950,1000,1050,1100,1150,1200,1250,1300,1350,1400,1450,1500,1550,1600,1650,1700,1750,1800], "labels": false, "domain": false, "grid": false, "title": null}},
                            "y": {"field": "Q", "type": "quantitative", "scale": {"domain": [0, 70], "nice": false, "zero": false},
                              "axis": {"orient": "right", "values": [0,10,20,30,40,50,60,70], "labels": false, "domain": false, "grid": false, "title": null}}
                          }}
                      ]
                    }
                  ]
                },
                {
                  "spacing": 305,
                  "hconcat": [
                    {"width": 1, "height": 1, "data": {"values": []}, "mark": "point", "view": {"stroke": null, "fill": "transparent"}},
                    {
                      "width": 790, "height": 101,
                      "view": {"stroke": "#333", "strokeWidth": 1.3},
                      "encoding": {
                        "x": {"field": "r", "type": "nominal", "axis": null, "scale": {"type": "point", "domain": ["r/m","0.01","0.02","0.03","0.04","0.05","0.063","0.07","0.08"], "padding": 0.54}},
                        "y": {"datum": "label", "type": "nominal", "axis": null, "scale": {"type": "point", "domain": ["label", "symbol"], "padding": 0.83}}
                      },
                      "layer": [
                        {"data": {"values": [{"r": "r/m"}]}, "mark": {"type": "text", "fontSize": 31, "font": "Liberation Serif", "fontStyle": "italic", "color": "#222", "baseline": "middle", "align": "right", "dx": -10, "text": "r"}},
                        {"data": {"values": [{"r": "r/m"}]}, "mark": {"type": "text", "fontSize": 31, "font": "Liberation Serif", "color": "#222", "baseline": "middle", "align": "left", "dx": -10, "text": "/m"}},
                        {"data": {"name": "legsym"}, "mark": {"type": "text", "fontSize": 31, "font": "Liberation Serif", "color": "#222", "baseline": "middle"},
                          "encoding": {"text": {"field": "r"}}},
                        {"data": {"name": "legsym"}, "mark": {"type": "tick", "orient": "horizontal", "size": 42, "thickness": 1.3},
                          "encoding": {"y": {"datum": "symbol", "type": "nominal"}, "color": {"field": "r", "type": "nominal", "legend": null, "scale": {"domain": ["0.01","0.02","0.03","0.04","0.05","0.063","0.07","0.08"]}}}},
                        {"data": {"name": "legsym"}, "transform": [{"filter": "datum.r != '0.01'"}], "mark": {"type": "point", "filled": true, "opacity": 1, "size": 115},
                          "encoding": {"y": {"datum": "symbol", "type": "nominal"}, "color": {"field": "r", "type": "nominal", "legend": null, "scale": {"domain": ["0.01","0.02","0.03","0.04","0.05","0.063","0.07","0.08"]}}, "shape": {"field": "r", "type": "nominal", "legend": null, "scale": {"domain": ["0.01","0.02","0.03","0.04","0.05","0.063","0.07","0.08"]}}}},
                        {"data": {"name": "legsym"}, "transform": [{"filter": "datum.r == '0.01'"}], "mark": {"type": "point", "filled": false, "opacity": 1, "size": 90, "strokeWidth": 1.1},
                          "encoding": {"y": {"datum": "symbol", "type": "nominal"}, "color": {"field": "r", "type": "nominal", "legend": null, "scale": {"domain": ["0.01","0.02","0.03","0.04","0.05","0.063","0.07","0.08"]}}, "shape": {"field": "r", "type": "nominal", "legend": null, "scale": {"domain": ["0.01","0.02","0.03","0.04","0.05","0.063","0.07","0.08"]}}}}
                      ]
                    }
                  ]
                }
              ]
            },
            {
              "width": 1339, "height": 52,
              "view": {"stroke": null, "fill": "transparent"},
              "encoding": {
                "x": {"datum": 0, "type": "quantitative", "axis": null, "scale": {"domain": [0, 1]}},
                "y": {"field": "line", "type": "ordinal", "axis": null, "scale": {"type": "point", "domain": [1, 2], "padding": 0.5}}
              },
              "layer": [
                {"data": {"name": "capbold"}, "mark": {"type": "text", "font": "Liberation Sans", "fontSize": 16, "fontWeight": "bold", "align": "left", "baseline": "middle", "dx": 10, "color": "#222"}, "encoding": {"text": {"field": "text"}}},
                {"data": {"name": "caption1"}, "mark": {"type": "text", "font": "Liberation Sans", "fontSize": 17, "align": "left", "baseline": "middle", "dx": 95, "color": "#222"}, "encoding": {"text": {"field": "text"}}},
                {"data": {"name": "caption2"}, "mark": {"type": "text", "font": "Liberation Sans", "fontSize": 18, "align": "left", "baseline": "middle", "dx": 10, "color": "#222"}, "encoding": {"text": {"field": "text"}}}
              ]
            }
          ]
        }
      ]
    },
    {"width": 1, "height": 700, "data": {"values": []}, "mark": "point", "view": {"stroke": null, "fill": "#7a7a7a"}}
  ]
}
